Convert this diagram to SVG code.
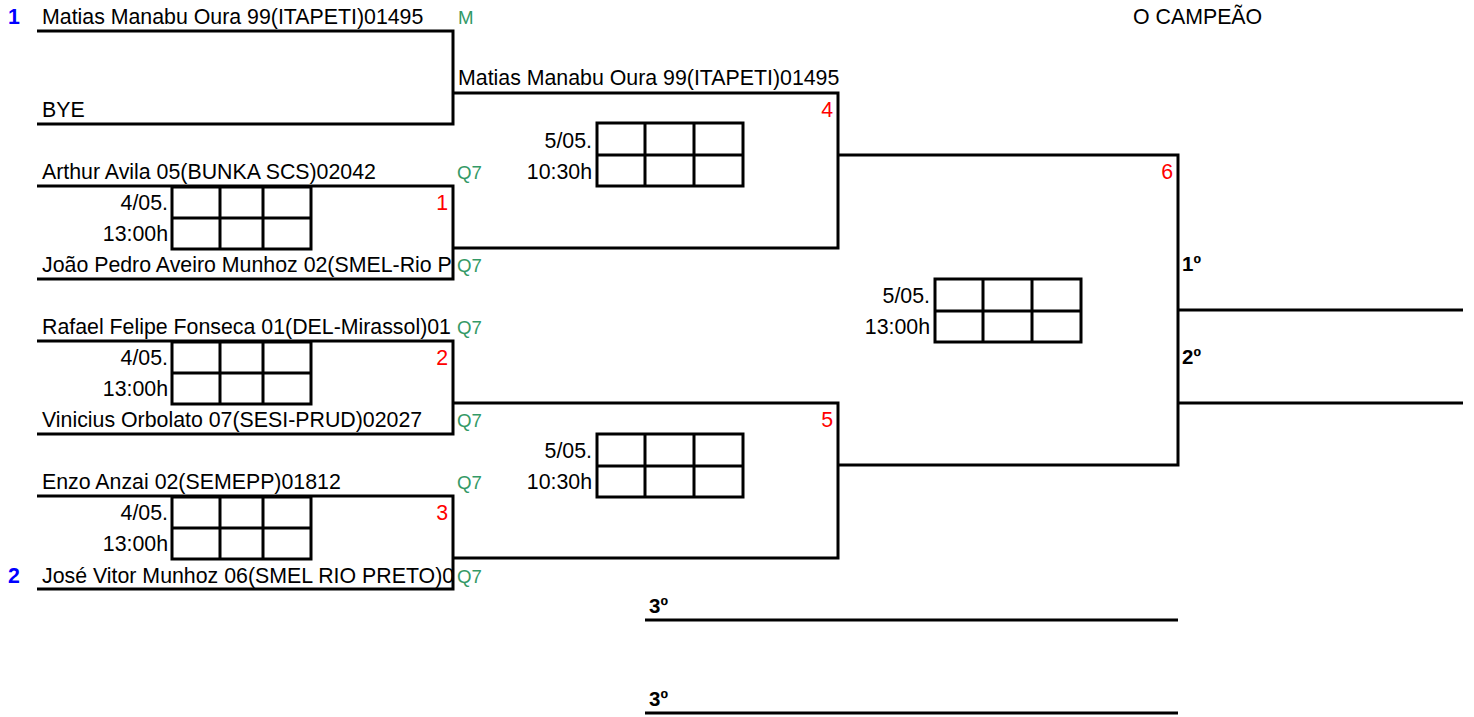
<svg xmlns="http://www.w3.org/2000/svg" width="1474" height="717" viewBox="0 0 1474 717">
<style>
text{font-family:"Liberation Sans",Arial,sans-serif;font-size:21.33px;fill:#000}
.g{fill:#339966;font-size:18.67px}
.r{fill:#ff0000;text-anchor:end}
.b{fill:#0000ff;font-weight:bold}
.e{text-anchor:end}
.p{font-weight:bold;font-size:20.5px}
.ln{stroke:#000;stroke-width:3;fill:none}
.bx{stroke:#000;stroke-width:3;fill:none}
</style>
<defs>
<clipPath id="c1"><rect x="0" y="0" width="453" height="717"/></clipPath>
<g id="sm"><rect class="bx" x="0" y="0" width="139" height="62"/><path class="bx" d="M0 31H139M48 0V62M91 0V62"/></g>
<g id="lg"><rect class="bx" x="0" y="0" width="146" height="63"/><path class="bx" d="M0 32H146M48 0V63M97 0V63"/></g>
</defs>
<rect width="1474" height="717" fill="#fff"/>
<g id="connectors">
<path class="ln" d="M37 31H453V124H37"/>
<path class="ln" d="M37 186H453V279H37"/>
<path class="ln" d="M37 341H453V434H37"/>
<path class="ln" d="M37 496H453V589H37"/>
<path class="ln" d="M453 93H838V248H453"/>
<path class="ln" d="M453 403H838V558H453"/>
<path class="ln" d="M838 155H1178V465H838"/>
<path class="ln" d="M1178 310H1463M1178 403H1463"/>
<path class="ln" d="M645 620H1178M645 713H1178"/>
</g>
<g id="header">
<text x="1133" y="24">O CAMPEÃO</text>
</g>
<g id="player-1">
<text class="b" x="8" y="24">1</text>
<text x="42" y="24">Matias Manabu Oura 99(ITAPETI)01495</text>
<text class="g" x="458" y="24">M</text>
</g>
<g id="player-bye">
<text x="42" y="117">BYE</text>
</g>
<g id="match-1">
<text x="42" y="179">Arthur Avila 05(BUNKA SCS)02042</text>
<text class="g" x="457" y="179">Q7</text>
<use href="#sm" x="172" y="187"/>
<text class="e" x="168" y="210">4/05.</text>
<text class="e" x="168" y="241">13:00h</text>
<text class="r" x="448" y="210">1</text>
<text x="42" y="272" clip-path="url(#c1)">João Pedro Aveiro Munhoz 02(SMEL-Rio P</text>
<text class="g" x="457" y="272">Q7</text>
</g>
<g id="match-2">
<text x="42" y="334" clip-path="url(#c1)">Rafael Felipe Fonseca 01(DEL-Mirassol)01</text>
<text class="g" x="457" y="334">Q7</text>
<use href="#sm" x="172" y="342"/>
<text class="e" x="168" y="365">4/05.</text>
<text class="e" x="168" y="396">13:00h</text>
<text class="r" x="448" y="365">2</text>
<text x="42" y="427">Vinicius Orbolato 07(SESI-PRUD)02027</text>
<text class="g" x="457" y="427">Q7</text>
</g>
<g id="match-3">
<text x="42" y="489">Enzo Anzai 02(SEMEPP)01812</text>
<text class="g" x="457" y="489">Q7</text>
<use href="#sm" x="172" y="497"/>
<text class="e" x="168" y="520">4/05.</text>
<text class="e" x="168" y="551">13:00h</text>
<text class="r" x="448" y="520">3</text>
<text class="b" x="8" y="583">2</text>
<text x="42" y="583" clip-path="url(#c1)">José Vitor Munhoz 06(SMEL RIO PRETO)0</text>
<text class="g" x="457" y="583">Q7</text>
</g>
<g id="match-4">
<text x="458" y="85">Matias Manabu Oura 99(ITAPETI)01495</text>
<text class="r" x="833" y="117">4</text>
<use href="#lg" x="597" y="123"/>
<text class="e" x="592" y="148">5/05.</text>
<text class="e" x="592" y="179">10:30h</text>
</g>
<g id="match-5">
<text class="r" x="833" y="427">5</text>
<use href="#lg" x="597" y="434"/>
<text class="e" x="592" y="458">5/05.</text>
<text class="e" x="592" y="489">10:30h</text>
</g>
<g id="match-6">
<text class="r" x="1173" y="179">6</text>
<use href="#lg" x="935" y="279"/>
<text class="e" x="930" y="303">5/05.</text>
<text class="e" x="930" y="334">13:00h</text>
</g>
<g id="places">
<text class="p" x="1182" y="271">1º</text>
<text class="p" x="1182" y="364">2º</text>
<text class="p" x="649" y="613">3º</text>
<text class="p" x="649" y="706">3º</text>
</g>
</svg>
